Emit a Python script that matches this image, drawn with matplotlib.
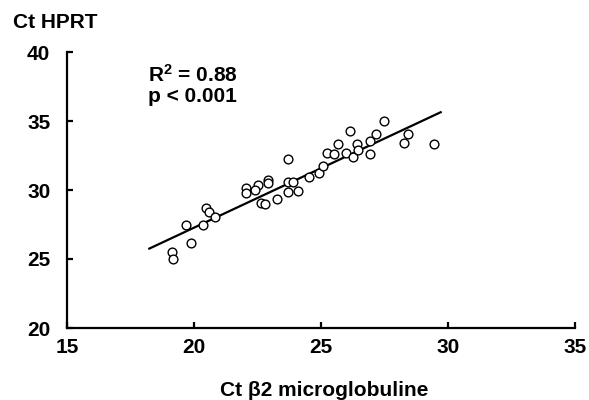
import numpy as np
import matplotlib
matplotlib.use("Agg")
import matplotlib.pyplot as plt

plt.rcParams['font.family'] = ['Liberation Sans', 'DejaVu Sans']
plt.rcParams['font.weight'] = 'bold'
plt.rcParams['mathtext.fontset'] = 'custom'
plt.rcParams['mathtext.rm'] = 'Liberation Sans:bold'
plt.rcParams['mathtext.it'] = 'Liberation Sans:bold'
plt.rcParams['mathtext.bf'] = 'Liberation Sans:bold'

# Ct values
ct_b2m = [19.12, 19.18, 19.87, 19.69, 20.37, 20.47, 20.60, 20.83,
          22.04, 22.04, 22.53, 22.41, 22.90, 22.90, 22.64, 22.80, 23.26,
          23.71, 23.71, 23.91, 23.71, 24.11, 24.54, 24.93, 25.09, 25.22,
          25.52, 25.66, 25.98, 26.14, 26.27, 26.41, 26.47, 26.93, 26.93,
          27.17, 27.49, 28.28, 28.44, 29.46]
ct_hprt = [25.53, 25.00, 26.14, 27.49, 27.49, 28.67, 28.43, 28.02,
           30.12, 29.80, 30.36, 30.00, 30.72, 30.49, 29.04, 28.96, 29.33,
           32.25, 30.60, 30.60, 29.88, 29.95, 30.96, 31.21, 31.74, 32.66,
           32.59, 33.31, 32.66, 34.28, 32.41, 33.31, 32.90, 32.59, 33.55,
           34.04, 35.00, 33.43, 34.04, 33.33]

# regression line ends
fit_x = [18.2, 29.75]
fit_y = [25.72, 35.67]

xticks = [15, 20, 25, 30, 35]
yticks = [20, 25, 30, 35, 40]

fig = plt.figure(figsize=(5.89, 4.0), dpi=100)
ax = fig.add_axes([0.1138, 0.18, 0.8625, 0.69])

ax.plot(fit_x, fit_y, color='black', lw=1.6, solid_capstyle='butt')
ax.plot(ct_b2m, ct_hprt, 'o', mfc='white', mec='black', mew=1.0, ms=6.3,
        linestyle='none')

ax.set_xlim(15, 35)
ax.set_ylim(20, 40)
ax.set_xticks(xticks)
ax.set_yticks(yticks)
ax.spines['top'].set_visible(False)
ax.spines['right'].set_visible(False)
ax.spines['left'].set_linewidth(1.6)
ax.spines['bottom'].set_linewidth(1.6)
ax.tick_params(direction='in', length=4, width=1.6, labelsize=15)
ax.tick_params(axis='x', pad=7)
ax.tick_params(axis='y', pad=12)
for lab in ax.get_xticklabels() + ax.get_yticklabels():
    lab.set_fontweight('bold')

ax.text(18.19, 38.33, 'R$^2$ = 0.88', fontsize=15, fontweight='bold',
        ha='left', va='center')
ax.text(18.19, 36.75, 'p < 0.001', fontsize=15, fontweight='bold',
        ha='left', va='center')

fig.text(0.022, 0.9425, 'Ct HPRT', fontsize=15, fontweight='bold',
         ha='left', va='center')
fig.text(0.55, 0.025, 'Ct \u03b22 microglobuline', fontsize=15,
         fontweight='bold', ha='center', va='center')

fig.savefig('out.png', dpi=100)
